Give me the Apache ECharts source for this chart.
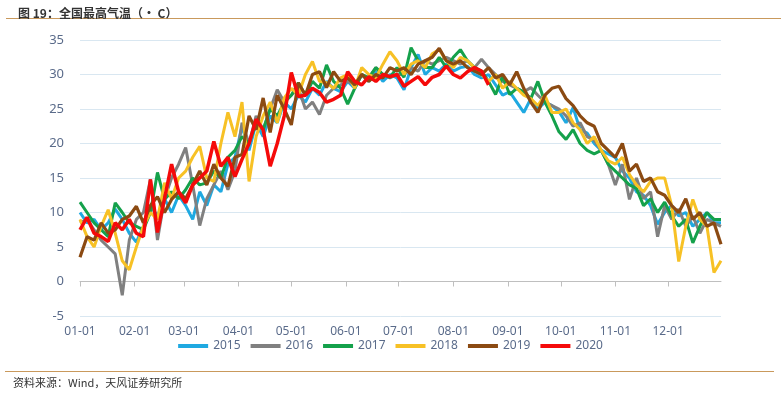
<!DOCTYPE html>
<html><head><meta charset="utf-8">
<script src="https://cdn.jsdelivr.net/npm/echarts@6/dist/echarts.min.js"></script>
<style>html,body{margin:0;padding:0;background:#fff}#c{width:781px;height:395px}</style>
</head><body><div id="c"></div>
<script>
// month labels and lengths (non-leap year)
const monthLabels = ['01','02','03','04','05','06','07','08','09','10','11','12'];
const monthDays = [31,28,31,30,31,30,31,31,30,31,30,31];
const seriesNames = ['2015','2016','2017','2018','2019','2020'];
// values sampled every 4 days starting 01-01 (day index 0,4,8,...,364)
const v2015 = [10,8.5,9,7.5,8.5,10.5,9,7, 5.7,8,11,9.5,12,10,12.5, 11,9,13,11,14,13,17,18, 22.5,19,23,21,24,23,26, 25,27,26,28,27,29,28,27.5, 29,28,30,29,30.5,29,30,29.5, 27.8,31,32.9,30,31,30.5,31.5, 30.5,31,31.2,30,29.5,30,28.5,27, 27.5,26,24.5,26.5,25,26,25.5,24.6, 23,25.2,22,21.5,20,19,18.5, 18,16,15,13,12.5,11,8.3,10, 11,9.5,10,8,9,10,8.5,8.5];
const v2016 = [8.5,9,7.5,6,5,4,-2,6, 9,10,14.8,6,12,15,17, 19.4,14,8.1,12,14,16,13.3,16, 23,20,24,22,25,27.8,26, 27,28,25,26,24.2,27,28,28.5, 29,28.5,30,29.5,31,30,29.5,30, 30,31,30.5,32,31.5,32,32.5, 32,31.5,32,31,32.2,31,30,29, 28.5,28,27.5,28.1,27,26,25.5,25, 24,22.5,23,21,20.5,19,17, 14,17,11.9,15,12,13,6.5,11, 9,10.5,8,9.5,7,9,8.5,8];
const v2017 = [11.5,10,8.5,7.5,6.5,11.4,10,8.5, 8,7.5,10,15.8,11.9,13,12, 13.3,15,14,14.3,16,15,18,19, 21,20,23,22,25,24,26, 27,28.8,27,29,28,31.4,29,28, 25.7,28,30,29.5,31,30,29.6,31, 29.6,33.9,32,31,31,32.5,31, 32.5,33.6,32,31,30.5,29,27.1,29.7, 27.1,28,27.5,26.5,29,26,24,21.7, 20.6,22,20,19,18.5,19,17, 16,15,14,13.5,11,12,10,11.5, 9.5,8,9,5.6,8,10,9,9];
const v2018 = [9,6.5,5,8,10.4,7,3,1.7, 5,8,10,9,14.3,12,15, 16,18,19.6,15,14.5,20,24.5,21, 26,14.5,21,24,26,23,26.6, 28,27,30,31.9,29,28.8,28,29.5, 30,28,31,30,29.5,31.5,33.3,32, 30,31.5,32,31,33,33.6,32, 31,32.5,32,31,30,29,30,28, 29,28,27,26.5,25.5,27,24.5,24.5, 25,23,22,20,21,19,17.5, 17,18,15.5,14,13,14.5,15,15, 11,2.9,8,11.9,9,8,1.3,3];
const v2019 = [3.5,6.5,6,8.5,7,7.5,9,9.5, 10.9,8.5,11,12.3,10,11.9,13, 12,14,16,14,17,15,13.8,18, 18.4,24,22,26.6,21.6,27,25, 22.7,28.8,27,30,30.4,28.1,30.4,29, 29.5,28.5,30,29,30,29.5,31,30.5, 31,30,31.5,32,32.5,33.8,32, 31.5,32,31,30.5,30,31,29.5,30, 28.5,30.4,28,26,24.5,27,28,28.3, 26.5,25.5,24,23,22.5,20,19, 18,20,16,17,14.5,15,13,12.5, 11,10,12,9,10,8,8.5,5.4];
const v2020 = [7.5,9.3,7,6.5,5.8,8.5,7.5,9, 7,6.5,14.8,7.1,12,17,13, 11.4,14,15,16,20.3,16.7,18,15.2, 17.7,20,23.5,22,16.7,20,24, 30.3,26.8,27,28,27.4,26,26.4,27, 30.4,29,28.5,29.7,29,30,29.7,30, 28.3,29,29.7,28.5,29.6,30,31.2, 30,29.5,30.4,31,30.5,28.5];
const yTicks = [-5,0,5,10,15,20,25,30,35];

const categories = [];
monthDays.forEach((n,m)=>{for(let d=1;d<=n;d++){categories.push(monthLabels[m]+'-'+String(d).padStart(2,'0'));}});
const STEP = 4;
const toPairs = arr => arr.map((v,i)=>[i*STEP, v]);
const allVals = [v2015,v2016,v2017,v2018,v2019,v2020];
const colors = ['#1fa9e1','#808080','#14a14b','#f7c125','#8b4a12','#f50a0a'];
const widths = [3,3,3,3,3.2,3.5];

const chart = echarts.init(document.getElementById('c'), null, {renderer:'canvas'});
chart.setOption({
  animation:false,
  backgroundColor:'#fff',
  title:{text:'图 19：全国最高气温（· C）',left:13,top:2,textStyle:{fontSize:12,fontWeight:'bold',color:'#333',fontFamily:'Noto Sans CJK SC'}},
  graphic:[
    {type:'line',shape:{x1:6,y1:18.5,x2:781,y2:18.5},style:{stroke:'#c9995c',lineWidth:1.2}},
    {type:'line',shape:{x1:5,y1:371.5,x2:774,y2:371.5},style:{stroke:'#c9995c',lineWidth:1.2}},
    {type:'text',left:13,top:377,style:{text:'资料来源：Wind，天风证券研究所',fontSize:11,fill:'#333',fontFamily:'Noto Sans CJK SC'}}
  ],
  legend:{data:seriesNames,bottom:38,left:'center',icon:'rect',itemWidth:30,itemHeight:4,itemGap:10,
    textStyle:{fontSize:12,color:'#5a6b8a',fontFamily:'Noto Sans'}},
  grid:{left:80,right:60,top:40,bottom:79},
  xAxis:{type:'category',data:categories,boundaryGap:false,
    axisLine:{onZero:true,lineStyle:{color:'#bfbfbf',width:1}},
    axisTick:{show:true,length:5,lineStyle:{color:'#bfbfbf'},interval:(i,v)=>v.endsWith('-01')},
    axisLabel:{interval:(i,v)=>v.endsWith('-01'),color:'#5a6b8a',fontSize:12,margin:10,fontFamily:'Noto Sans'},
    splitLine:{show:false}},
  yAxis:{type:'value',min:yTicks[0],max:yTicks[yTicks.length-1],interval:5,
    axisLine:{show:false},axisTick:{show:false},
    axisLabel:{color:'#5a6b8a',fontSize:13,margin:16,fontFamily:'Noto Sans'},
    splitLine:{lineStyle:{color:'#d9e7f1',width:1}}},
  series: seriesNames.map((n,k)=>({name:n,type:'line',data:toPairs(allVals[k]),showSymbol:false,symbol:'none',
    smooth:false,lineStyle:{color:colors[k],width:widths[k]},itemStyle:{color:colors[k]},z:2+k}))
});
</script></body></html>
